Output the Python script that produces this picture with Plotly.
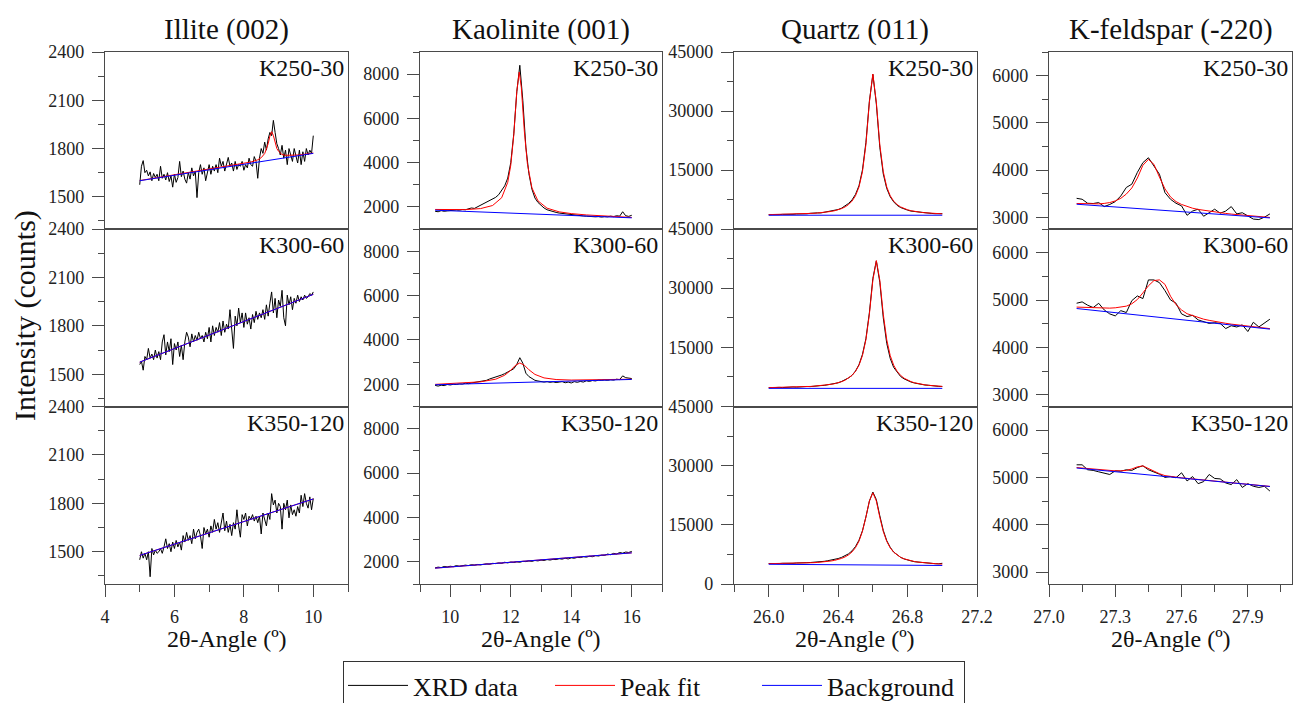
import plotly.graph_objects as go

FONT = "Liberation Serif, 'Times New Roman', serif"
W, H = 1295, 703

minerals = ["Illite (002)", "Kaolinite (001)", "Quartz (011)", "K-feldspar (-220)"]
samples = ["K250-30", "K300-60", "K350-120"]
legend_names = ["XRD data", "Peak fit", "Background"]

# ---------------- Illite (002) ----------------
illite_x = [5.00, 5.05, 5.10, 5.15, 5.20, 5.25, 5.30, 5.35, 5.40, 5.45, 5.50, 5.55, 5.60, 5.65, 5.70, 5.75, 5.80, 5.85, 5.90, 5.95,
            6.00, 6.05, 6.10, 6.15, 6.20, 6.25, 6.30, 6.35, 6.40, 6.45, 6.50, 6.55, 6.60, 6.65, 6.70, 6.75, 6.80, 6.85, 6.90, 6.95,
            7.00, 7.05, 7.10, 7.15, 7.20, 7.25, 7.30, 7.35, 7.40, 7.45, 7.50, 7.55, 7.60, 7.65, 7.70, 7.75, 7.80, 7.85, 7.90, 7.95,
            8.00, 8.05, 8.10, 8.15, 8.20, 8.25, 8.30, 8.35, 8.40, 8.45, 8.50, 8.55, 8.60, 8.65, 8.70, 8.75, 8.80, 8.85, 8.90, 8.95,
            9.00, 9.05, 9.10, 9.15, 9.20, 9.25, 9.30, 9.35, 9.40, 9.45, 9.50, 9.55, 9.60, 9.65, 9.70, 9.75, 9.80, 9.85, 9.90, 9.95,
            10.00]
illite_k250_data = [1575, 1690, 1725, 1650, 1665, 1630, 1655, 1600, 1645, 1620, 1640, 1600, 1690, 1615, 1640, 1605, 1650, 1595, 1630, 1560,
                    1640, 1590, 1620, 1720, 1625, 1660, 1610, 1585, 1650, 1610, 1680, 1630, 1660, 1495, 1650, 1700, 1640, 1680, 1600, 1660,
                    1700, 1640, 1690, 1660, 1700, 1650, 1740, 1690, 1720, 1660, 1710, 1745, 1690, 1710, 1660, 1720, 1670, 1700, 1690, 1720,
                    1665, 1700, 1680, 1740, 1700, 1690, 1750, 1720, 1615, 1740, 1800, 1770, 1840, 1790, 1860, 1900, 1880, 1975, 1900, 1830,
                    1800, 1760, 1820, 1740, 1790, 1700, 1800, 1760, 1720, 1800, 1750, 1710, 1790, 1700, 1780, 1720, 1800, 1760, 1790, 1770,
                    1880]
illite_k250_fit_x = [5.0, 6.0, 7.0, 7.5, 8.0, 8.2, 8.4, 8.5, 8.6, 8.65, 8.7, 8.75, 8.8, 8.85, 8.9, 8.95, 9.0, 9.1, 9.2, 9.4, 9.6, 10.0]
illite_k250_fit = [1601, 1636, 1671, 1690, 1706, 1716, 1730, 1743, 1769, 1796, 1830, 1877, 1905, 1881, 1837, 1800, 1783, 1763, 1758, 1757, 1760, 1772]
illite_k250_bg_x = [5.0, 10.0]
illite_k250_bg = [1600, 1770]

illite_k300_data = [1560, 1580, 1525, 1610, 1590, 1660, 1600, 1625, 1590, 1650, 1600, 1640, 1590, 1700, 1745, 1620, 1700, 1640, 1720, 1560,
                    1690, 1650, 1700, 1610, 1680, 1590, 1700, 1760, 1730, 1670, 1750, 1700, 1740, 1710, 1760, 1720, 1740, 1700, 1760, 1720,
                    1790, 1700, 1800, 1740, 1790, 1760, 1820, 1740, 1830, 1760, 1810, 1780, 1900, 1760, 1660, 1860, 1800, 1910, 1820, 1880,
                    1790, 1880, 1810, 1850, 1780, 1870, 1820, 1890, 1840, 1880, 1850, 1900, 1840, 1930, 1860, 1940, 2010, 1880, 1970, 1850,
                    1960, 1920, 2020, 1850, 1800, 1990, 1930, 1980, 1900, 1970, 1940, 1990, 1950, 1980, 1960, 1990, 1970, 1980, 2000, 1990,
                    2010]
illite_k300_fit_x = [5.0, 10.0]
illite_k300_fit = [1575, 1995]
illite_k300_bg_x = [5.0, 10.0]
illite_k300_bg = [1575, 1995]

illite_k350_data = [1450, 1500, 1460, 1490, 1450, 1500, 1345, 1520, 1480, 1510, 1490, 1500, 1520, 1490, 1530, 1580, 1520, 1550, 1500, 1560,
                    1520, 1570, 1530, 1560, 1510, 1600, 1560, 1620, 1570, 1600, 1550, 1640, 1580, 1620, 1640, 1600, 1520, 1650, 1610, 1640,
                    1590, 1660, 1620, 1700, 1640, 1680, 1620, 1670, 1740, 1630, 1690, 1620, 1670, 1600, 1680, 1640, 1760, 1660, 1590, 1730,
                    1700, 1740, 1660, 1720, 1700, 1730, 1690, 1720, 1680, 1720, 1610, 1740, 1700, 1660, 1740, 1700, 1860, 1790, 1820, 1740,
                    1800, 1780, 1640, 1800, 1760, 1820, 1710, 1790, 1730, 1760, 1720, 1780, 1740, 1850, 1780, 1860, 1800, 1770, 1840, 1760,
                    1830]
illite_k350_fit_x = [5.0, 10.0]
illite_k350_fit = [1477, 1827]
illite_k350_bg_x = [5.0, 10.0]
illite_k350_bg = [1477, 1827]

# ---------------- Kaolinite (001) ----------------
kao_x = [9.5, 9.6, 9.7, 9.8, 9.9,
         10.0, 10.1, 10.2, 10.3, 10.4, 10.5, 10.6, 10.7, 10.8, 10.9,
         11.0, 11.1, 11.2, 11.3, 11.4, 11.5, 11.6, 11.7, 11.8, 11.9,
         12.0, 12.1, 12.2, 12.3, 12.4, 12.5, 12.6, 12.7, 12.8, 12.9,
         13.0, 13.1, 13.2, 13.3, 13.4, 13.5, 13.6, 13.7, 13.8, 13.9,
         14.0, 14.1, 14.2, 14.3, 14.4, 14.5, 14.6, 14.7, 14.8, 14.9,
         15.0, 15.1, 15.2, 15.3, 15.4, 15.5, 15.6, 15.7, 15.8, 15.9,
         16.0]
kao_k250_data = [1800, 1780, 1830, 1800, 1820,
                 1840, 1830, 1860, 1850, 1880, 1870, 1900, 1950, 1930, 2000,
                 2080, 2150, 2200, 2280, 2370, 2430, 2550, 2750, 2950, 3300,
                 4000, 5300, 7200, 8400, 6800, 4700, 3500, 2800, 2400, 2200,
                 2050, 1950, 1870, 1820, 1780, 1750, 1720, 1700, 1690, 1660,
                 1650, 1630, 1620, 1600, 1590, 1580, 1560, 1570, 1550, 1560,
                 1540, 1560, 1550, 1580, 1560, 1600, 1580, 1780, 1600, 1570,
                 1620]
kao_k250_fit_x = [9.5, 10.0, 10.5, 11.0, 11.4, 11.7, 11.9, 12.0, 12.1, 12.2, 12.28, 12.35, 12.45, 12.55, 12.7, 12.9,
                  13.2, 13.6, 14.0, 14.5, 15.0, 15.5, 16.0]
kao_k250_fit = [1883, 1872, 1877, 1922, 2062, 2412, 3108, 3876, 5242, 7215, 8092, 7392, 5403, 3952, 2861, 2271,
                1941, 1775, 1696, 1636, 1592, 1555, 1523]
kao_k250_bg_x = [9.5, 16.0]
kao_k250_bg = [1850, 1505]

kao_k300_data = [1950, 1920, 1960, 1940, 1990,
                 1970, 2000, 1990, 2020, 2010, 2050, 2030, 2060, 2080, 2100,
                 2120, 2150, 2180, 2240, 2280, 2350, 2380, 2420, 2480, 2550,
                 2620, 2700, 2900, 3200, 2950, 2500, 2350, 2250, 2180, 2150,
                 2130, 2100, 2120, 2090, 2110, 2080, 2100, 2120, 2070, 2100,
                 2060, 2120, 2090, 2130, 2100, 2160, 2130, 2170, 2150, 2190,
                 2180, 2200, 2180, 2210, 2190, 2230, 2210, 2380, 2300, 2270,
                 2260]
kao_k300_fit_x = [9.5, 10.5, 11.0, 11.5, 11.8, 12.0, 12.15, 12.3, 12.45, 12.6, 12.8, 13.1, 13.5, 14.0, 15.0, 16.0]
kao_k300_fit = [1998, 2058, 2111, 2230, 2409, 2635, 2850, 2963, 2861, 2657, 2446, 2289, 2216, 2192, 2202, 2230]
kao_k300_bg_x = [9.5, 16.0]
kao_k300_bg = [1980, 2220]

kao_k350_data = [1730, 1760, 1740, 1790, 1770,
                 1800, 1780, 1830, 1800, 1820, 1850, 1830, 1870, 1850, 1880,
                 1860, 1900, 1910, 1890, 1930, 1920, 1950, 1930, 1980, 1950,
                 1990, 1970, 2000, 1980, 2020, 2010, 2040, 2020, 2060, 2040,
                 2080, 2060, 2100, 2080, 2110, 2100, 2140, 2120, 2160, 2130,
                 2180, 2160, 2200, 2190, 2230, 2210, 2250, 2230, 2280, 2260,
                 2300, 2290, 2350, 2320, 2380, 2350, 2420, 2390, 2440, 2420,
                 2470]
kao_k350_fit_x = [9.5, 16.0]
kao_k350_fit = [1715, 2405]
kao_k350_bg_x = [9.5, 16.0]
kao_k350_bg = [1715, 2405]

# ---------------- Quartz (011) ----------------
qz_x = [26.00, 26.02, 26.04, 26.06, 26.08, 26.10, 26.12, 26.14, 26.16, 26.18,
        26.20, 26.22, 26.24, 26.26, 26.28, 26.30, 26.32, 26.34, 26.36, 26.38,
        26.40, 26.42, 26.44, 26.46, 26.48, 26.50, 26.52, 26.54, 26.56, 26.58,
        26.60, 26.62, 26.64, 26.66, 26.68, 26.70, 26.72, 26.74, 26.76, 26.78,
        26.80, 26.82, 26.84, 26.86, 26.88, 26.90, 26.92, 26.94, 26.96, 26.98,
        27.00]
qz_k250_data = [3620, 3580, 3700, 3650, 3720, 3690, 3780, 3740, 3820, 3790,
                3900, 3860, 3990, 3950, 4100, 4080, 4250, 4300, 4520, 4700,
                4950, 5300, 5800, 6500, 7400, 8800, 11000, 15000, 22000, 32500,
                39300, 31800, 20800, 14000, 10300, 8200, 6900, 6000, 5450, 5050,
                4800, 4550, 4420, 4280, 4150, 4100, 3980, 3950, 3880, 3820,
                3900]
qz_k250_fit = [3659, 3670, 3682, 3696, 3711, 3728, 3747, 3769, 3794, 3822,
               3855, 3893, 3938, 3990, 4052, 4127, 4218, 4330, 4470, 4649,
               4881, 5189, 5612, 6209, 7090, 8452, 10680, 14546, 21450, 32220,
               39400, 32220, 21450, 14546, 10680, 8452, 7090, 6209, 5612, 5189,
               4881, 4649, 4470, 4330, 4218, 4127, 4052, 3990, 3938, 3893,
               3855]
qz_k250_bg_x = [26.0, 27.0]
qz_k250_bg = [3500, 3500]

qz_k300_data = [4750, 4820, 4780, 4850, 4800, 4900, 4850, 4950, 4900, 5000,
                4960, 5080, 5050, 5180, 5150, 5300, 5350, 5500, 5600, 5850,
                6000, 6350, 6700, 7250, 7900, 9000, 10600, 13200, 17200, 23800,
                32500, 36900, 31500, 22500, 16000, 12200, 9900, 8600, 7600, 7000,
                6550, 6200, 5950, 5750, 5600, 5450, 5380, 5250, 5200, 5100,
                5080]
qz_k300_fit = [4786, 4798, 4811, 4827, 4844, 4863, 4884, 4908, 4935, 4966,
               5000, 5041, 5088, 5143, 5208, 5284, 5376, 5488, 5625, 5797,
               6015, 6296, 6668, 7173, 7883, 8909, 10462, 12914, 16919, 23393,
               32034, 37000, 32034, 23393, 16919, 12914, 10462, 8909, 7883, 7173,
               6668, 6296, 6015, 5797, 5625, 5488, 5376, 5284, 5208, 5143,
               5088]
qz_k300_bg_x = [26.0, 27.0]
qz_k300_bg = [4600, 4600]

qz_k350_data = [5200, 5150, 5220, 5180, 5250, 5200, 5280, 5250, 5330, 5300,
                5380, 5400, 5450, 5500, 5560, 5650, 5750, 5900, 6050, 6250,
                6450, 6750, 7100, 7650, 8400, 9500, 11100, 13500, 17000, 21000,
                23300, 21400, 17300, 13600, 11000, 9300, 8100, 7300, 6750, 6350,
                6050, 5850, 5650, 5550, 5420, 5350, 5270, 5220, 5150, 5120,
                5250]
qz_k350_fit = [5158, 5163, 5169, 5177, 5186, 5197, 5210, 5225, 5244, 5266,
               5292, 5323, 5361, 5405, 5460, 5526, 5608, 5709, 5837, 6000,
               6210, 6489, 6865, 7386, 8129, 9219, 10862, 13358, 16951, 21055,
               23120, 21043, 16927, 13322, 10814, 9159, 8057, 7302, 6769, 6381,
               6090, 5868, 5693, 5553, 5440, 5346, 5268, 5201, 5145, 5095,
               5052]
qz_k350_bg_x = [26.0, 27.0]
qz_k350_bg = [5000, 4700]

# ---------------- K-feldspar (-220) ----------------
kf_x = [27.125, 27.150, 27.175, 27.200, 27.225, 27.250, 27.275, 27.300, 27.325, 27.350,
        27.375, 27.400, 27.425, 27.450, 27.475, 27.500, 27.525, 27.550, 27.575, 27.600,
        27.625, 27.650, 27.675, 27.700, 27.725, 27.750, 27.775, 27.800, 27.825, 27.850,
        27.875, 27.900, 27.925, 27.950, 27.975, 28.000]
kf_k250_data = [3400, 3380, 3295, 3290, 3310, 3225, 3270, 3330, 3450, 3630,
                3700, 3950, 4155, 4260, 4085, 3910, 3520, 3380, 3295, 3240,
                3040, 3130, 3170, 3020, 3095, 3170, 3085, 3130, 3225, 3070,
                3095, 3025, 2960, 2950, 3000, 3070]
kf_k250_fit = [3290, 3285, 3280, 3278, 3282, 3292, 3310, 3345, 3400, 3490,
               3620, 3830, 4100, 4225, 4120, 3850, 3600, 3430, 3330, 3270,
               3225, 3190, 3165, 3145, 3125, 3108, 3093, 3080, 3066, 3055,
               3045, 3035, 3025, 3015, 3005, 2995]
kf_k250_bg_x = [27.125, 28.0]
kf_k250_bg = [3275, 2985]

kf_k300_data = [4932, 4960, 4890, 4840, 4930, 4790, 4706, 4664, 4775, 4735,
                4987, 5086, 5030, 5424, 5424, 5367, 5198, 5002, 4932, 4706,
                4650, 4676, 4580, 4550, 4505, 4520, 4505, 4397, 4456, 4430,
                4475, 4334, 4530, 4430, 4505, 4595]
kf_k300_fit = [4850, 4845, 4838, 4832, 4828, 4825, 4828, 4835, 4850, 4870,
               4920, 5010, 5150, 5300, 5410, 5425, 5330, 5080, 4900, 4790,
               4710, 4670, 4630, 4595, 4570, 4545, 4525, 4508, 4490, 4475,
               4460, 4447, 4433, 4420, 4407, 4395]
kf_k300_bg_x = [27.125, 28.0]
kf_k300_bg = [4820, 4385]

kf_k350_data = [5268, 5268, 5163, 5150, 5120, 5100, 5064, 5141, 5134, 5163,
                5150, 5210, 5247, 5163, 5113, 5070, 5002, 5020, 4995, 5100,
                4927, 5020, 4870, 4913, 5064, 4980, 4970, 4885, 4850, 4955,
                4790, 4870, 4815, 4790, 4815, 4713]
kf_k350_fit = [5210, 5198, 5188, 5177, 5167, 5157, 5148, 5140, 5140, 5150,
               5180, 5225, 5245, 5190, 5120, 5080, 5040, 5020, 5005, 4993,
               4982, 4969, 4957, 4946, 4935, 4924, 4913, 4901, 4890, 4879,
               4868, 4857, 4845, 4834, 4823, 4812]
kf_k350_bg_x = [27.125, 28.0]
kf_k350_bg = [5200, 4810]

# panel table: [col][row] -> (data_x, data_y, fit_x, fit_y, bg_x, bg_y)
panels = [
    [(illite_x, illite_k250_data, illite_k250_fit_x, illite_k250_fit, illite_k250_bg_x, illite_k250_bg),
     (illite_x, illite_k300_data, illite_k300_fit_x, illite_k300_fit, illite_k300_bg_x, illite_k300_bg),
     (illite_x, illite_k350_data, illite_k350_fit_x, illite_k350_fit, illite_k350_bg_x, illite_k350_bg)],
    [(kao_x, kao_k250_data, kao_k250_fit_x, kao_k250_fit, kao_k250_bg_x, kao_k250_bg),
     (kao_x, kao_k300_data, kao_k300_fit_x, kao_k300_fit, kao_k300_bg_x, kao_k300_bg),
     (kao_x, kao_k350_data, kao_k350_fit_x, kao_k350_fit, kao_k350_bg_x, kao_k350_bg)],
    [(qz_x, qz_k250_data, qz_x, qz_k250_fit, qz_k250_bg_x, qz_k250_bg),
     (qz_x, qz_k300_data, qz_x, qz_k300_fit, qz_k300_bg_x, qz_k300_bg),
     (qz_x, qz_k350_data, qz_x, qz_k350_fit, qz_k350_bg_x, qz_k350_bg)],
    [(kf_x, kf_k250_data, kf_x, kf_k250_fit, kf_k250_bg_x, kf_k250_bg),
     (kf_x, kf_k300_data, kf_x, kf_k300_fit, kf_k300_bg_x, kf_k300_bg),
     (kf_x, kf_k350_data, kf_x, kf_k350_fit, kf_k350_bg_x, kf_k350_bg)],
]

# axis settings per column
x_ranges = [[4, 11], [9, 17], [25.8, 27.2], [27.0, 28.1]]
x_tick0 = [4, 10, 26.0, 27.0]
x_dtick = [2, 2, 0.4, 0.3]
x_minor = [1, 1, 0.2, 0.15]
x_fmt = ["", "", ".1f", ".1f"]
y_ranges = [[1300, 2400], [1000, 9000], [0, 45000], [2750, 6500]]
y_tick0 = [0, 0, 0, 0]
y_dtick = [300, 2000, 15000, 1000]
y_minor = [150, 1000, 7500, 500]

# layout geometry (pixels)
col_px = [(105, 348), (420, 662), (734, 977), (1049, 1292)]
row_px = [(52, 229), (229, 406.5), (406.5, 584)]

AX = "#4a4a4a"
colors = ["#000000", "#ff0000", "#0000ff"]

fig = go.Figure()
layout = dict()
annotations = []

for c in range(4):
    for r in range(3):
        i = r * 4 + c + 1
        xa = "x" if i == 1 else f"x{i}"
        ya = "y" if i == 1 else f"y{i}"
        dx, dy, fx, fy, bx, by = panels[c][r]
        for k, (xx, yy) in enumerate([(dx, dy), (fx, fy), (bx, by)]):
            fig.add_trace(go.Scatter(
                x=xx, y=yy, mode="lines", name=legend_names[k],
                line=dict(color=colors[k], width=1),
                xaxis=xa, yaxis=ya, showlegend=(i == 1), legendgroup=legend_names[k],
                hoverinfo="skip"))
        x0, x1 = col_px[c]
        y0, y1 = row_px[r]
        bottom = (r == 2)
        xkey = "xaxis" if i == 1 else f"xaxis{i}"
        ykey = "yaxis" if i == 1 else f"yaxis{i}"
        layout[xkey] = dict(
            domain=[x0 / W, x1 / W], anchor=ya, range=x_ranges[c], automargin=False,
            tick0=x_tick0[c], dtick=x_dtick[c], tickformat=x_fmt[c],
            showline=True, mirror=True, linecolor=AX, linewidth=1.2,
            showgrid=False, zeroline=False,
            ticks="outside" if bottom else "", ticklen=12, tickwidth=1.2, tickcolor=AX,
            showticklabels=bottom, tickfont=dict(size=18, color="#222"),
            ticklabelstandoff=4,
            minor=dict(dtick=x_minor[c], tick0=x_tick0[c], ticks="outside" if bottom else "",
                       ticklen=7, tickwidth=1.2, tickcolor=AX, showgrid=False),
        )
        ydict = dict(
            domain=[1 - y1 / H, 1 - y0 / H], anchor=xa, range=y_ranges[c], automargin=False,
            showline=True, mirror=True, linecolor=AX, linewidth=1.2,
            showgrid=False, zeroline=False,
            ticks="outside", ticklen=12, tickwidth=1.2, tickcolor=AX,
            tickfont=dict(size=18, color="#222"), ticklabelstandoff=4,
            minor=dict(dtick=y_minor[c], tick0=y_tick0[c], ticks="outside",
                       ticklen=6, tickwidth=1.2, tickcolor=AX, showgrid=False),
        )
        if c == 2:
            vals = [15000, 30000, 45000] if r < 2 else [0, 15000, 30000, 45000]
            ydict.update(tickmode="array", tickvals=vals, ticktext=[str(v) for v in vals])
            ydict["minor"].update(tickmode="linear")
        else:
            ydict.update(tick0=y_tick0[c], dtick=y_dtick[c])
        layout[ykey] = ydict
        annotations.append(dict(
            text=samples[r], x=(x1 - 2) / W, y=1 - (y0 + 1) / H, xref="paper", yref="paper",
            xanchor="right", yanchor="top", showarrow=False, font=dict(size=24, color="#111")))
    # column title
    annotations.append(dict(
        text=minerals[c], x=(col_px[c][0] + col_px[c][1]) / 2 / W, y=1 - 29 / H,
        xref="paper", yref="paper", xanchor="center", yanchor="middle",
        showarrow=False, font=dict(size=29, color="#111")))
    # x-axis title
    annotations.append(dict(
        text="2θ-Angle (º)", x=(col_px[c][0] + col_px[c][1]) / 2 / W, y=1 - 639 / H,
        xref="paper", yref="paper", xanchor="center", yanchor="middle",
        showarrow=False, font=dict(size=24, color="#111")))

annotations.append(dict(
    text="Intensity (counts)", x=25 / W, y=1 - 316 / H, xref="paper", yref="paper",
    xanchor="center", yanchor="middle", textangle=-90, showarrow=False,
    font=dict(size=30, color="#111")))

fig.update_layout(
    **layout,
    annotations=annotations,
    width=W, height=H,
    margin=dict(l=0, r=0, t=0, b=0, autoexpand=False),
    paper_bgcolor="white", plot_bgcolor="white",
    font=dict(family=FONT, color="#111"),
    legend=dict(orientation="h", x=654 / W, xanchor="center", y=1 - 661 / H, yanchor="top",
                bordercolor="#333", borderwidth=1, bgcolor="white",
                font=dict(size=26, color="#111"), itemwidth=60,
                entrywidth=132, entrywidthmode="pixels", tracegroupgap=0),
    showlegend=True,
)

fig.write_html("out.html")
